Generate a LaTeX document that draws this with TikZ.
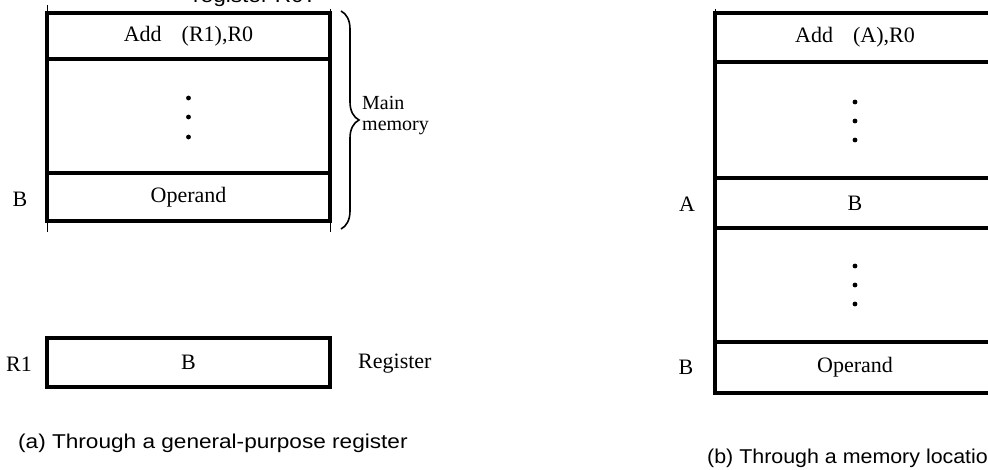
\documentclass[tikz,border=0pt]{standalone}
\usepackage{fontspec}
\usepackage{graphicx}
\setmainfont{Liberation Serif}
\newfontfamily\capfont{Liberation Sans}
\newcommand{\wide}[2][1.13]{\scalebox{#1}[1]{#2}}
\usetikzlibrary{decorations.pathreplacing}
\begin{document}
\begin{tikzpicture}[x=1pt,y=-1pt,
  cell/.style={draw, line width=3.5pt, inner sep=0pt, font=\fontsize{22}{26}\selectfont},
  lbl/.style={inner sep=0pt, font=\fontsize{22}{26}\selectfont},
  captxt/.style={inner sep=0pt, anchor=base west, font=\capfont\fontsize{20}{24}\selectfont},
  dotc/.style={circle, fill, inner sep=0pt, minimum size=4.8pt},
  thinline/.style={line width=0.9pt}]
\clip (0,0) rectangle (988,470);
% clipped text at top
\node[captxt] (topt) at (193,3) {\wide{register R0?}};
% ---------- left panel ----------
\draw[thinline] (47,5) -- (47,232);
\draw[thinline] (330,9) -- (330,232);
\node[cell, minimum width=283pt, minimum height=46pt] (a1) at (188.5,36) {Add\hspace{20pt}(R1),R0};
\node[cell, minimum width=283pt, minimum height=114pt] (a2) at (188.5,116) {};
\node[cell, minimum width=283pt, minimum height=48pt] (a3) at (188.5,197) {Operand};
\node[dotc] (ad1) at (188.5,98) {};
\node[dotc] (ad2) at (188.5,117) {};
\node[dotc] (ad3) at (188.5,137) {};
\node[lbl] (lB) at (20,199) {B};
\draw[line width=1.6pt, decorate, decoration={brace, amplitude=18pt}] (341,11) -- (341,229);
\node[lbl, anchor=west, align=left, font=\fontsize{20}{21}\selectfont] (mm) at (362,116) {Main\\memory};
\node[cell, minimum width=283pt, minimum height=49pt] (r1) at (188.5,362.5) {B};
\node[lbl] (lR1) at (19,364) {R1};
\node[lbl, anchor=west] (lreg) at (358,364) {Register};
\node[captxt] (capa) at (18,448) {\wide{(a) Through a general-purpose register}};
% ---------- right panel ----------
\draw[thinline] (715,9) -- (715,395);
\node[cell, minimum width=280pt, minimum height=49pt] (b1) at (855,37.5) {Add\hspace{20pt}(A),R0};
\node[cell, minimum width=280pt, minimum height=116pt] (b2) at (855,120) {};
\node[cell, minimum width=280pt, minimum height=50pt] (b3) at (855,203) {B};
\node[cell, minimum width=280pt, minimum height=114pt] (b4) at (855,285) {};
\node[cell, minimum width=280pt, minimum height=51pt] (b5) at (855,367.5) {Operand};
\node[dotc] (bd1) at (855,102) {};
\node[dotc] (bd2) at (855,121) {};
\node[dotc] (bd3) at (855,140) {};
\node[dotc] (bd4) at (855,266) {};
\node[dotc] (bd5) at (855,285) {};
\node[dotc] (bd6) at (855,304) {};
\node[lbl] (lA) at (687,204) {A};
\node[lbl] (lB2) at (686,367) {B};
\node[captxt] (capb) at (707,463) {\wide[1.07]{(b) Through a memory location}};
\end{tikzpicture}
\end{document}
